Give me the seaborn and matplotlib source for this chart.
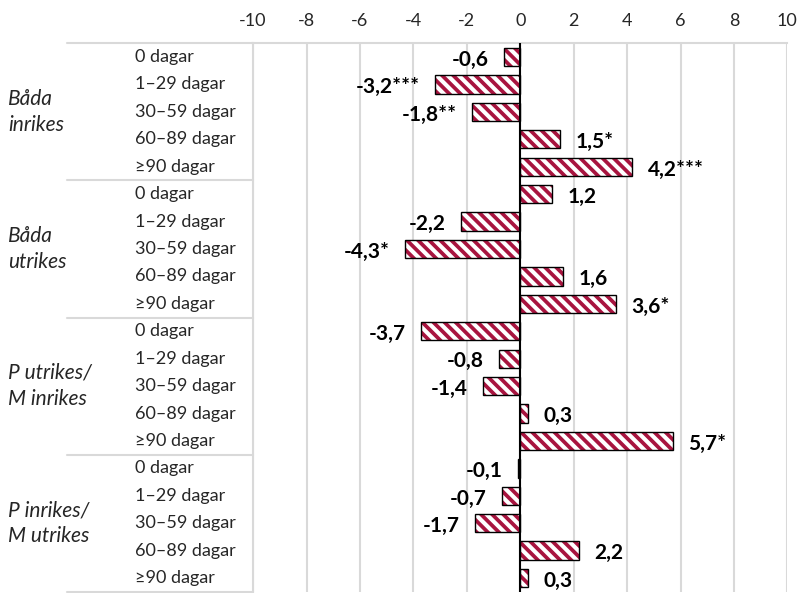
import numpy as np
import pandas as pd
import matplotlib
matplotlib.use("Agg")
import matplotlib.pyplot as plt
import matplotlib.transforms as mtransforms
from matplotlib.lines import Line2D
import seaborn as sns

# data
groups = ["Båda\ninrikes", "Båda\nutrikes", "P utrikes/\nM inrikes", "P inrikes/\nM utrikes"]
days = ["0 dagar", "1–29 dagar", "30–59 dagar", "60–89 dagar", "≥90 dagar"]
values = [-0.6, -3.2, -1.8, 1.5, 4.2,
          1.2, -2.2, -4.3, 1.6, 3.6,
          -3.7, -0.8, -1.4, 0.3, 5.7,
          -0.1, -0.7, -1.7, 2.2, 0.3]
value_labels = ["-0,6", "-3,2***", "-1,8**", "1,5*", "4,2***",
                "1,2", "-2,2", "-4,3*", "1,6", "3,6*",
                "-3,7", "-0,8", "-1,4", "0,3", "5,7*",
                "-0,1", "-0,7", "-1,7", "2,2", "0,3"]
xticks = [-10, -8, -6, -4, -2, 0, 2, 4, 6, 8, 10]

sns.set_style("white")
plt.rcParams['font.family'] = ['Lato', 'DejaVu Sans']
plt.rcParams['hatch.linewidth'] = 2.7
crimson = '#A8143F'
plt.rcParams['hatch.color'] = crimson

df = pd.DataFrame({
    'row': [f"{g}|{d}" for g in groups for d in days],
    'value': values,
})

fig = plt.figure(figsize=(8.01, 5.93), dpi=100)
ax = fig.add_axes([0.316, 0.002, 0.667, 0.925])

# hatched fill
sns.barplot(data=df, x='value', y='row', orient='h', color='white',
            edgecolor=crimson, linewidth=0, hatch='\\\\\\', width=0.67,
            saturation=1, ax=ax, zorder=3)
# black outline
sns.barplot(data=df, x='value', y='row', orient='h', color='black',
            fill=False, linewidth=1.0, width=0.67, ax=ax, zorder=4)

anns = ax.bar_label(ax.containers[0], labels=value_labels, padding=11,
                    fontsize=15, fontweight='bold', color='black')
for a in anns:
    dx, dy = a.xyann
    a.xyann = (dx, dy - 2)

ax.set_xlim(-10, 10)
ax.set_ylim(19.5, -0.5)
ax.set_xticks(xticks)
ax.set_xticklabels([str(t) for t in xticks], fontsize=13, color='#262626')
ax.xaxis.tick_top()
ax.tick_params(axis='x', length=0, pad=10)
ax.set_yticks([])
ax.set_xlabel('')
ax.set_ylabel('')
ax.grid(axis='x', color='#D9D9D9', linewidth=1.5, zorder=0)
ax.set_axisbelow(True)
ax.axvline(0, color='black', linewidth=1.5, zorder=5)
for side in ['right', 'bottom']:
    ax.spines[side].set_visible(False)
ax.spines['top'].set_color('#D9D9D9')
ax.spines['top'].set_linewidth(1.5)
ax.spines['left'].set_color('#D9D9D9')
ax.spines['left'].set_linewidth(1.5)

# category labels on the left
trans = mtransforms.blended_transform_factory(fig.transFigure, ax.transData)
for i, g in enumerate(groups):
    for j, d in enumerate(days):
        ax.text(0.168, i * 5 + j, d, transform=trans, ha='left', va='center',
                fontsize=13, color='#262626', clip_on=False)
    ax.text(0.010, i * 5 + 2, g, transform=trans, ha='left', va='center',
            fontsize=15, style='italic', color='#262626', linespacing=1.4,
            clip_on=False)
for k in range(len(groups) + 1):
    ax.add_line(Line2D([0.084, 0.316], [k * 5 - 0.5, k * 5 - 0.5],
                       transform=trans, color='#D9D9D9', linewidth=1.5,
                       clip_on=False))

fig.savefig('out.png', dpi=100)
